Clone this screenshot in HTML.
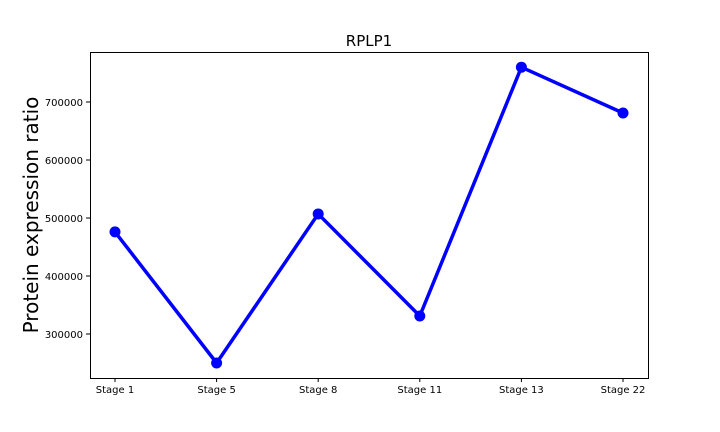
<!DOCTYPE html>
<html><head><meta charset="utf-8"><style>
body{margin:0;background:#fff;}
svg{display:block;font-family:"DejaVu Sans","Liberation Sans",sans-serif;}
</style></head><body>
<svg id="chart" width="720" height="432" viewBox="0 0 720 432" xmlns="http://www.w3.org/2000/svg"></svg>
<script>
const categories = ["Stage 1","Stage 5","Stage 8","Stage 11","Stage 13","Stage 22"];
const values = [476000, 250000, 507000, 331000, 760000, 681000];
const yTicks = [300000, 400000, 500000, 600000, 700000];
const yTickLabels = ["300000","400000","500000","600000","700000"];
const title = "RPLP1";
const yLabel = "Protein expression ratio";

const NS = "http://www.w3.org/2000/svg";
const svg = document.getElementById("chart");
const L=90,R=648,T=52,B=378;
const yMin=224138, yMax=786207;
const xFirst=115, xLast=623;
function xScale(i){return xFirst + i*(xLast-xFirst)/(categories.length-1);}
function yScale(v){return B - (v-yMin)/(yMax-yMin)*(B-T);}
function mk(tag,attrs,text){const e=document.createElementNS(NS,tag);for(const k in attrs)e.setAttribute(k,attrs[k]);if(text!==undefined)e.textContent=text;svg.appendChild(e);return e;}

let t=mk("text",{x:369,y:46,"text-anchor":"middle","font-size":15,fill:"#000"},title);


let yl=mk("text",{x:0,y:0,transform:"translate(38,215) rotate(-90)","text-anchor":"middle","font-size":20,fill:"#000"},yLabel);



yTicks.forEach((v,i)=>{
  const y=yScale(v);
  let tk=mk("line",{x1:L-4,x2:L,y1:y,y2:y,stroke:"#000","stroke-width":1});
  
  
  let lb=mk("text",{x:L-7,y:y+4,"text-anchor":"end","font-size":10,fill:"#000"},yTickLabels[i]);
  
  
});
categories.forEach((c,i)=>{
  const x=xScale(i);
  let tk=mk("line",{x1:x,x2:x,y1:B,y2:B+4,stroke:"#000","stroke-width":1});
  
  
  let lb=mk("text",{x:x,y:B+15,"text-anchor":"middle","font-size":10,fill:"#000"},c);
  
  
});
const pts=values.map((v,i)=>xScale(i)+","+yScale(v)).join(" ");
let line=mk("polyline",{points:pts,fill:"none",stroke:"#0000ff","stroke-width":3.5,"stroke-linejoin":"round"});


values.forEach((v,i)=>{
  let c=mk("circle",{cx:xScale(i),cy:yScale(v),r:5.5,fill:"#0000ff"});
  
  
});
let frame=mk("rect",{x:L+0.5,y:T+0.5,width:R-L,height:B-T,fill:"none",stroke:"#000","stroke-width":1});


</script>
</body></html>
